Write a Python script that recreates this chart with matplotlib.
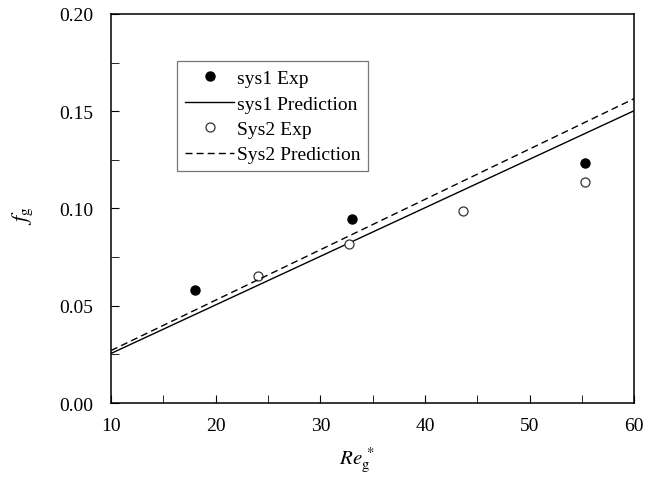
import numpy as np
import matplotlib
matplotlib.use("Agg")
import matplotlib.pyplot as plt
from matplotlib.ticker import MultipleLocator

plt.rcParams['font.family'] = ['Liberation Serif', 'DejaVu Serif']
plt.rcParams['mathtext.fontset'] = 'stix'

# experimental points
sys1_re = [18.0, 33.0, 55.3]
sys1_f = [0.058, 0.0945, 0.1235]
sys2_re = [24.0, 32.7, 43.6, 55.3]
sys2_f = [0.0655, 0.0815, 0.0988, 0.1135]

# prediction lines (end points)
pred_re = [10, 60]
sys1_pred = [0.0255, 0.1503]
sys2_pred = [0.0270, 0.1565]

fig = plt.figure(figsize=(6.46, 4.81), dpi=100)
ax = fig.add_axes([0.172, 0.160, 0.810, 0.809])

ax.plot(sys1_re, sys1_f, 'o', color='black', ms=6.5, label='sys1 Exp')
ax.plot(pred_re, sys1_pred, '-', color='black', lw=1.0, label='sys1 Prediction')
ax.plot(sys2_re, sys2_f, 'o', mfc='white', mec='#333333', mew=0.9, ms=6.5, label='Sys2 Exp')
ax.plot(pred_re, sys2_pred, '--', color='black', lw=1.0, dashes=(5, 3), label='Sys2 Prediction')

ax.set_xlim(10, 60)
ax.set_ylim(0, 0.20)
ax.xaxis.set_major_locator(MultipleLocator(10))
ax.xaxis.set_minor_locator(MultipleLocator(5))
ax.yaxis.set_major_locator(MultipleLocator(0.05))
ax.yaxis.set_minor_locator(MultipleLocator(0.025))
ax.yaxis.set_major_formatter(plt.FuncFormatter(lambda v, p: '%.2f' % v))
ax.tick_params(which='both', direction='in', top=False, right=False, labelsize=14)
ax.tick_params(axis='y', which='major', length=6, pad=13)
ax.tick_params(axis='x', which='major', length=6, pad=10)
ax.tick_params(which='minor', length=6)
for s in ax.spines.values():
    s.set_linewidth(1.1)

ax.set_xlabel(r'$Re_{\mathrm{g}}^{\,*}$', fontsize=15)
ax.xaxis.set_label_coords(0.47, -0.108)
ax.set_ylabel(r'$f_{\mathrm{g}}$', fontsize=16, rotation=90)
ax.yaxis.set_label_coords(-0.145, 0.483)

leg = ax.legend(loc='upper left', bbox_to_anchor=(0.126, 0.878), fontsize=14,
                frameon=True, fancybox=False, edgecolor='#555555',
                handlelength=2.5, handletextpad=0.15, borderpad=0.42,
                borderaxespad=0, labelspacing=0.4)
leg.get_frame().set_linewidth(0.9)

fig.savefig('out.png', dpi=100)
